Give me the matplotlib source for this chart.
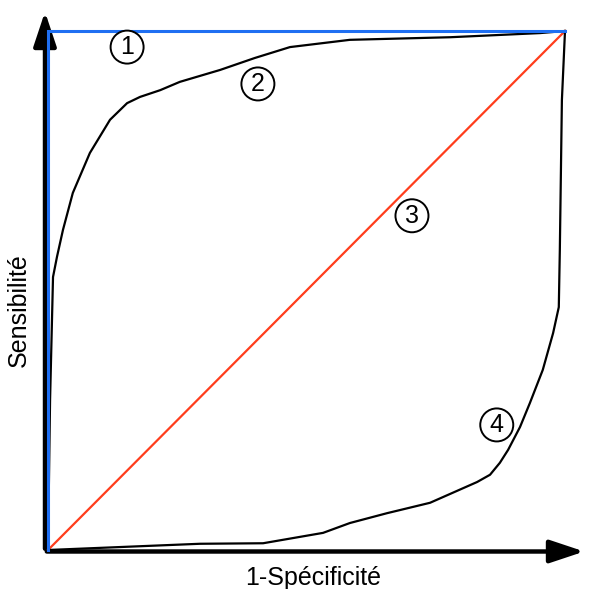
import matplotlib
matplotlib.use("Agg")
import matplotlib.pyplot as plt
from matplotlib.patches import Ellipse, FancyArrowPatch

# ROC curves (x = 1-specificity, y = sensitivity), values in [0, 1]
perfect_x = [0.0, 0.0, 1.0]
perfect_y = [0.0, 1.0, 1.0]

good_x = [0.0, 0.004, 0.0097, 0.0174, 0.029, 0.048, 0.081, 0.120, 0.153, 0.178, 0.217,
          0.255, 0.333, 0.400, 0.468, 0.584, 0.778, 0.952, 1.0]
good_y = [0.0, 0.289, 0.526, 0.565, 0.617, 0.688, 0.765, 0.829, 0.861, 0.873, 0.886,
          0.902, 0.925, 0.948, 0.969, 0.983, 0.988, 0.996, 1.0]

random_x = [0.0, 1.0]
random_y = [0.0, 1.0]

bad_x = [0.0, 0.294, 0.416, 0.532, 0.584, 0.656, 0.681, 0.739, 0.830, 0.855, 0.874,
         0.890, 0.913, 0.932, 0.957, 0.977, 0.988, 0.990, 0.994, 1.0]
bad_y = [0.0, 0.012, 0.013, 0.033, 0.052, 0.071, 0.077, 0.091, 0.131, 0.145, 0.168,
         0.193, 0.237, 0.283, 0.347, 0.418, 0.468, 0.578, 0.867, 1.0]

label_texts = ["1", "2", "3", "4"]
label_x = [0.153, 0.406, 0.704, 0.868]
label_y = [0.969, 0.898, 0.644, 0.241]

fig = plt.figure(figsize=(5.91, 5.89), dpi=100)
ax = fig.add_axes([0, 0, 1, 1])
px_x, px_y = 517.0, 519.0
ox, oy = 48.0, 550.0
ax.set_xlim(-ox / px_x, (591 - ox) / px_x)
ax.set_ylim((oy - 589) / px_y, oy / px_y)
ax.axis("off")

# axes with arrows
ax.add_patch(FancyArrowPatch((-3 / px_x, -1.5 / px_y), (-3 / px_x, (oy - 9) / px_y),
                             arrowstyle="-|>,head_length=1.5,head_width=0.5",
                             mutation_scale=14, lw=3.2, color="black", zorder=1))
ax.add_patch(FancyArrowPatch((-4 / px_x, -1.5 / px_y), ((587 - ox) / px_x, -1.5 / px_y),
                             arrowstyle="-|>,head_length=1.5,head_width=0.5",
                             mutation_scale=14, lw=3.2, color="black", zorder=1))

ax.plot(perfect_x, perfect_y, color="#1f6ff2", lw=2.2, zorder=3, solid_joinstyle="miter")
ax.plot(random_x, random_y, color="#ff3d1c", lw=1.6, zorder=2)
ax.plot(good_x, good_y, color="black", lw=1.6, zorder=2, solid_joinstyle="round")
ax.plot(bad_x, bad_y, color="black", lw=1.6, zorder=2, solid_joinstyle="round")

r = 16.5
for t, x, y in zip(label_texts, label_x, label_y):
    ax.add_patch(Ellipse((x, y), 2 * r / px_x, 2 * r / px_y, facecolor="white",
                         edgecolor="black", lw=1.4, zorder=4))
    ax.text(x, y, t, ha="center", va="center", fontsize=18, family="Liberation Sans",
            zorder=5)

ax.text((313 - ox) / px_x, (oy - 578) / px_y, "1-Spécificité", ha="center", va="center",
        fontsize=18, family="Liberation Sans")
ax.text((19 - ox) / px_x, (oy - 310) / px_y, "Sensibilité", ha="center", va="center",
        rotation=90, fontsize=18, family="Liberation Sans")

fig.savefig("out.png", dpi=100)
